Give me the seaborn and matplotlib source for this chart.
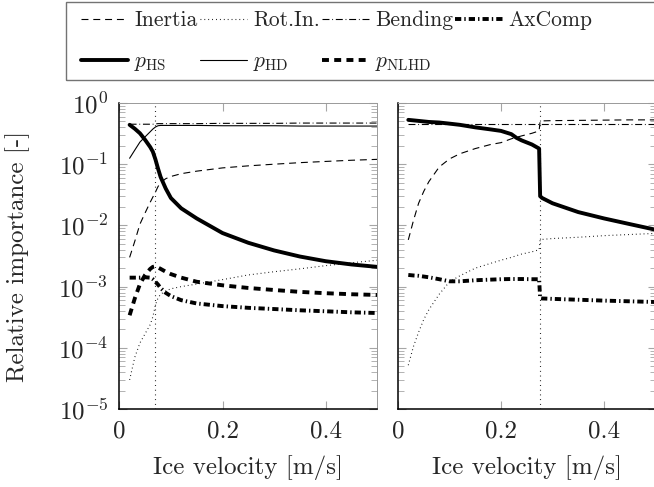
import math
import matplotlib
matplotlib.use("Agg")
import matplotlib.pyplot as plt
import matplotlib.ticker as mticker
from matplotlib.patches import Rectangle
import seaborn as sns

# ---- data (ice velocity in m/s) ----
v_left = [0.02, 0.03, 0.04, 0.05, 0.06, 0.065, 0.07, 0.075, 0.08, 0.09, 0.10,
          0.12, 0.15, 0.20, 0.25, 0.30, 0.35, 0.40, 0.45, 0.50]
inertia_left = [0.003, 0.0055, 0.0105, 0.016, 0.024, 0.029, 0.035, 0.043, 0.05, 0.058, 0.063,
                0.07, 0.077, 0.087, 0.094, 0.100, 0.106, 0.111, 0.116, 0.12]
rotin_left = [3e-5, 7e-5, 1.2e-4, 1.7e-4, 2.4e-4, 3.2e-4, 5e-4, 6.5e-4, 7.5e-4, 8.5e-4, 9.2e-4,
              1.0e-3, 1.1e-3, 1.3e-3, 1.55e-3, 1.75e-3, 1.95e-3, 2.2e-3, 2.45e-3, 2.7e-3]
bending_left = [0.45, 0.45, 0.45, 0.45, 0.45, 0.45, 0.455, 0.46, 0.46, 0.46, 0.46,
                0.46, 0.46, 0.465, 0.465, 0.465, 0.47, 0.47, 0.47, 0.47]
axcomp_left = [1.4e-3, 1.4e-3, 1.4e-3, 1.42e-3, 1.4e-3, 1.32e-3, 1.2e-3, 1.08e-3, 9.5e-4, 7.9e-4, 7e-4,
               6e-4, 5.3e-4, 4.8e-4, 4.5e-4, 4.3e-4, 4.1e-4, 3.95e-4, 3.8e-4, 3.7e-4]
phs_left = [0.44, 0.38, 0.32, 0.25, 0.19, 0.16, 0.12, 0.085, 0.062, 0.04, 0.028,
            0.019, 0.013, 0.0075, 0.0052, 0.0039, 0.0031, 0.0026, 0.0023, 0.0021]
phd_left = [0.125, 0.17, 0.23, 0.28, 0.34, 0.375, 0.405, 0.425, 0.43, 0.43, 0.43,
            0.43, 0.43, 0.425, 0.425, 0.425, 0.42, 0.42, 0.42, 0.42]
pnlhd_left = [3.4e-4, 6.4e-4, 1.1e-3, 1.55e-3, 1.95e-3, 2.1e-3, 2.15e-3, 2.05e-3, 1.95e-3, 1.75e-3, 1.6e-3,
              1.4e-3, 1.2e-3, 1.05e-3, 9.5e-4, 8.8e-4, 8.2e-4, 7.8e-4, 7.5e-4, 7.3e-4]
transition_left = 0.07

v_right = [0.02, 0.03, 0.04, 0.05, 0.06, 0.08, 0.10, 0.12, 0.15, 0.18, 0.20, 0.22, 0.23,
           0.24, 0.26, 0.274, 0.276, 0.28, 0.30, 0.35, 0.40, 0.45, 0.50]
inertia_right = [0.0058, 0.012, 0.023, 0.036, 0.052, 0.09, 0.122, 0.148, 0.18, 0.21, 0.225, 0.26, 0.275,
                 0.29, 0.32, 0.35, 0.51, 0.51, 0.515, 0.52, 0.525, 0.53, 0.53]
rotin_right = [5.2e-5, 1.05e-4, 1.8e-4, 2.9e-4, 4.2e-4, 7.5e-4, 1.2e-3, 1.5e-3, 2.0e-3, 2.4e-3, 2.7e-3, 3.0e-3, 3.2e-3,
               3.4e-3, 3.7e-3, 4.0e-3, 5.8e-3, 5.9e-3, 6.1e-3, 6.4e-3, 6.8e-3, 7.1e-3, 7.4e-3]
bending_right = [0.46] * len(v_right)
axcomp_right = [1.55e-3, 1.52e-3, 1.5e-3, 1.46e-3, 1.42e-3, 1.32e-3, 1.22e-3, 1.22e-3, 1.27e-3, 1.3e-3, 1.32e-3, 1.33e-3, 1.33e-3,
                1.33e-3, 1.32e-3, 1.32e-3, 6.5e-4, 6.4e-4, 6.3e-4, 6.1e-4, 5.9e-4, 5.75e-4, 5.6e-4]
phs_right = [0.53, 0.52, 0.51, 0.50, 0.49, 0.48, 0.46, 0.44, 0.40, 0.37, 0.35, 0.31, 0.27,
             0.245, 0.21, 0.18, 0.03, 0.028, 0.023, 0.0165, 0.013, 0.0105, 0.0085]
transition_right = 0.275

legend_labels = ["Inertia", "Rot.In.", "Bending", "AxComp",
                 r"$p_{\mathrm{HS}}$", r"$p_{\mathrm{HD}}$", r"$p_{\mathrm{NLHD}}$"]

# ---- style ----
sns.set_style("ticks")
plt.rcParams.update({
    "font.family": "serif",
    "font.serif": ["cmr10"],
    "mathtext.fontset": "cm",
    "axes.formatter.use_mathtext": True,
    "lines.scale_dashes": False,
    "font.size": 18,
})

thin, thick = 0.8, 2.8
styles = {
    "Inertia": dict(lw=thin, ls=(0, (5.0, 3.5))),
    "Rot.In.": dict(lw=thin, ls=(0, (0.6, 2.2))),
    "Bending": dict(lw=thin, ls=(0, (5.0, 2.0, 0.6, 2.0))),
    "AxComp": dict(lw=thick, ls=(0, (4.5, 2.2, 1.0, 2.2))),
    "pHS": dict(lw=thick, ls="-"),
    "pHD": dict(lw=thin, ls="-"),
    "pNLHD": dict(lw=thick, ls=(0, (5.0, 3.8))),
}

fig = plt.figure(figsize=(6.54, 4.87), dpi=100)
W, H = 654, 487
ax1 = fig.add_axes([119.3 / W, (H - 409) / H, 258 / W, 306 / H])
ax2 = fig.add_axes([398 / W, (H - 409) / H, 257.5 / W, 306 / H])

def draw(ax, v, series):
    for key, y in series:
        st = styles[key]
        sns.lineplot(x=v, y=y, ax=ax, color="black", lw=st["lw"], linestyle=st["ls"],
                     sort=False, estimator=None, label=key)

draw(ax1, v_left, [("Inertia", inertia_left), ("Rot.In.", rotin_left), ("Bending", bending_left),
                   ("AxComp", axcomp_left), ("pHS", phs_left), ("pHD", phd_left), ("pNLHD", pnlhd_left)])
draw(ax2, v_right, [("Inertia", inertia_right), ("Rot.In.", rotin_right), ("Bending", bending_right),
                    ("AxComp", axcomp_right), ("pHS", phs_right)])
ax1.axvline(transition_left, color="black", lw=0.8, ls=(0, (0.6, 2.8)))
ax2.axvline(transition_right, color="black", lw=0.8, ls=(0, (0.6, 2.8)))

for ax in (ax1, ax2):
    ax.set_yscale("log")
    ax.set_xlim(0, 0.5)
    ax.set_ylim(1e-5, 1)
    ax.set_xticks([0, 0.2, 0.4])
    ax.set_xticklabels(["0", "0.2", "0.4"])
    ax.yaxis.set_major_locator(mticker.LogLocator(base=10, numticks=10))
    ax.yaxis.set_minor_locator(mticker.LogLocator(base=10, subs=range(2, 10), numticks=10))
    ax.tick_params(which="both", direction="in", top=True, right=True, color="0.65")
    ax.tick_params(which="major", length=6, width=0.8, pad=8)
    ax.tick_params(which="minor", length=4, width=0.6)
    for s in ("top", "right"):
        ax.spines[s].set_color("0.6")
        ax.spines[s].set_linewidth(0.7)
    for s in ("left", "bottom"):
        ax.spines[s].set_color("black")
        ax.spines[s].set_linewidth(1.1)
    ax.set_xlabel("Ice velocity [m/s]", labelpad=9)
    ax.get_legend().remove()

ax1.yaxis.set_major_formatter(mticker.FuncFormatter(lambda y, _: r"$10^{%d}$" % round(math.log10(y))))
ax2.set_yticklabels([])
ax2.yaxis.set_minor_formatter(mticker.NullFormatter())
ax1.set_ylabel("Relative importance [-]", labelpad=20)

# legend (column-wise fill, 2 rows x 4 columns)
h, l = ax1.get_legend_handles_labels()
order = [0, 4, 1, 5, 2, 6, 3]
fig.legend([h[i] for i in order], [legend_labels[i] for i in order], ncol=4,
           loc="upper left", bbox_to_anchor=(70 / W, 1.0), frameon=False,
           fontsize=15.5, handlelength=2.2, handletextpad=0.28, columnspacing=0.1,
           labelspacing=1.0, borderpad=0.0)
fig.patches.append(Rectangle((66 / W, 1 - 80 / H), 620 / W, 78 / H, transform=fig.transFigure,
                             fill=False, edgecolor="0.45", lw=1.0))

fig.savefig("out.png", dpi=100)
